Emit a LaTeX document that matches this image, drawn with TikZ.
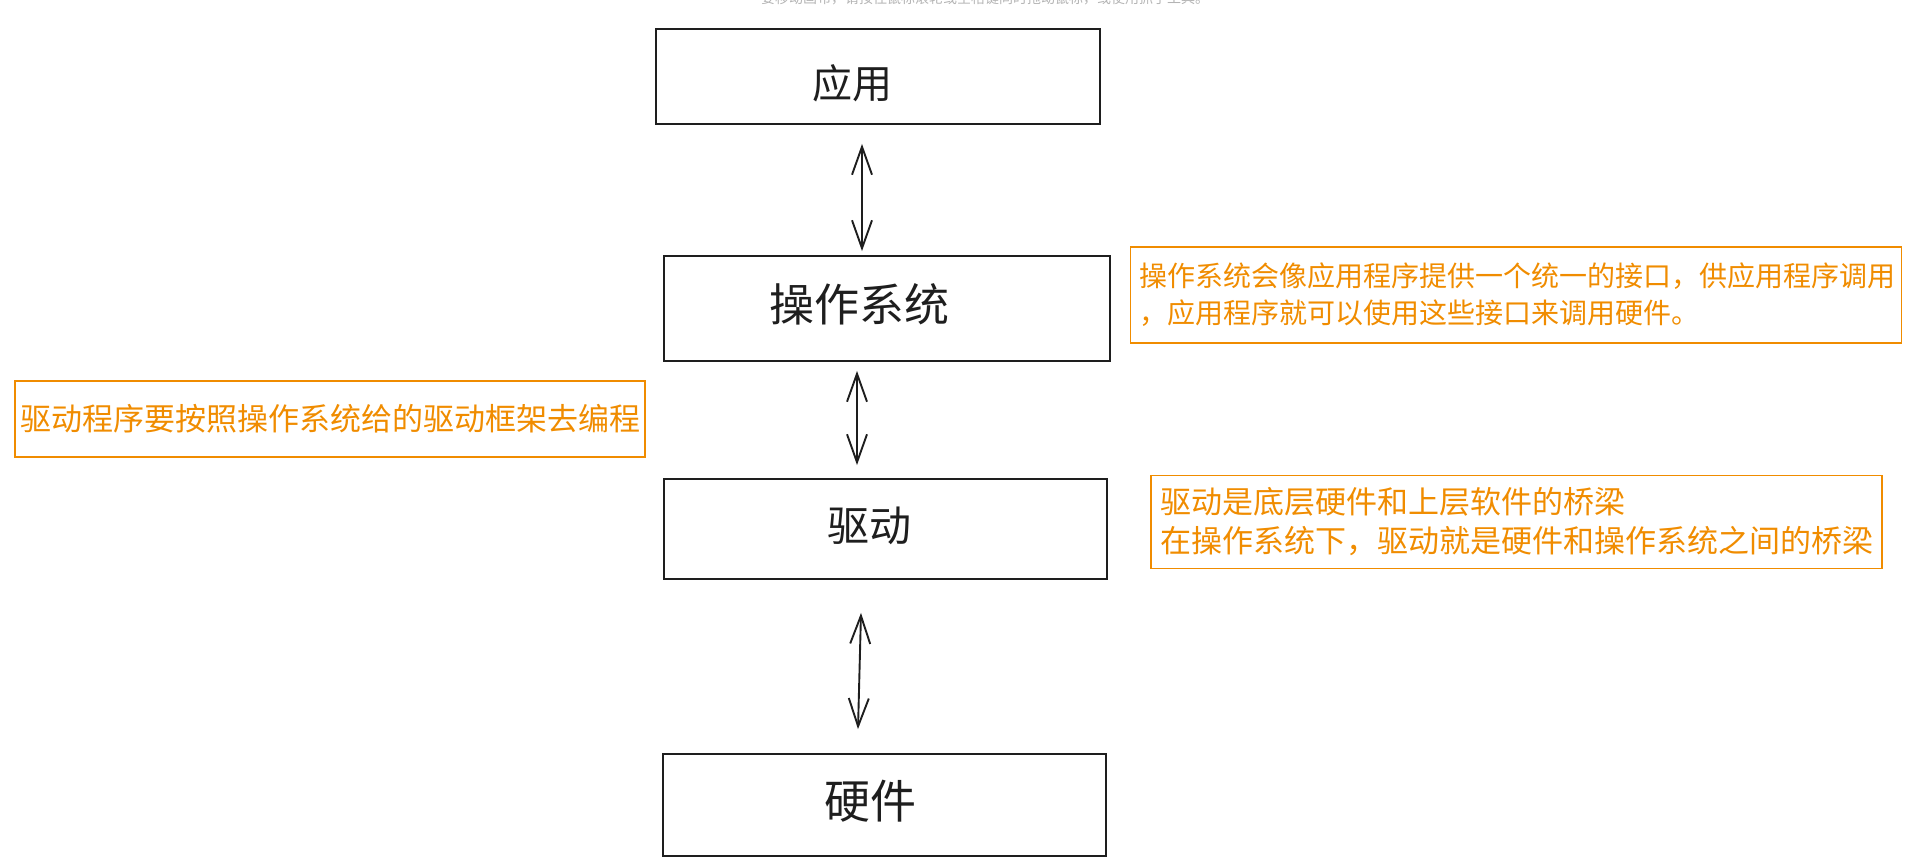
\documentclass[tikz,border=0pt]{standalone}
\usepackage{fontspec}
\setmainfont{Noto Sans CJK SC}
\usetikzlibrary{arrows.meta,positioning}
\definecolor{ink}{HTML}{1E1E1E}
\definecolor{remark}{HTML}{F08C00}
\definecolor{hint}{HTML}{B4B4B4}

\begin{document}
\begin{tikzpicture}[x=1pt, y=-1pt,
  box/.style={draw=ink, line width=1.8pt, inner sep=0pt},
  lbl/.style={text=ink, inner sep=0pt},
  note/.style={draw=remark, text=remark, line width=1.8pt, inner xsep=9pt,
               inner ysep=0pt, align=left},
  arr/.style={{Straight Barb[length=28pt,width=20pt]}-{Straight Barb[length=28pt,width=20pt]},
              line width=1.9pt, ink}
]
  \useasboundingbox (0,0) rectangle (1908,867);

  % half-hidden canvas hint at the top edge
  \node[text=hint, anchor=base, inner sep=0pt, font=\fontsize{14}{16}\selectfont] (hintTxt) at (985,4)
    {要移动画布，请按住鼠标滚轮或空格键同时拖动鼠标，或使用抓手工具。};

  % layers
  \node[box, minimum width=444pt, minimum height=95pt] (app) at (878,76.5) {};
  \node[box, minimum width=446pt, minimum height=105pt] (os) at (887,308.5) {};
  \node[box, minimum width=443pt, minimum height=100pt] (drv) at (885.5,529) {};
  \node[box, minimum width=443pt, minimum height=102pt] (hw) at (884.5,805) {};

  \node[lbl, font=\fontsize{40}{48}\selectfont] (appTxt) at (852,83) {应用};
  \node[lbl, font=\fontsize{45}{54}\selectfont] (osTxt) at (859,304) {操作系统};
  \node[lbl, font=\fontsize{42}{50}\selectfont] (drvTxt) at (869,526) {驱动};
  \node[lbl, font=\fontsize{46}{54}\selectfont] (hwTxt) at (870,801) {硬件};

  % notes
  \node[note, minimum width=771pt, minimum height=96pt, text width=753pt,
        font=\fontsize{28}{37}\selectfont] (osNote) at (1516,295)
    {操作系统会像应用程序提供一个统一的接口，供应用程序调用\\，应用程序就可以使用这些接口来调用硬件。};
  \node[note, minimum width=630pt, minimum height=76pt, inner xsep=5pt, text width=620pt,
        font=\fontsize{31}{38}\selectfont] (fwNote) at (330,419)
    {驱动程序要按照操作系统给的驱动框架去编程};
  \node[note, minimum width=731pt, minimum height=93pt, text width=713pt,
        font=\fontsize{31}{39}\selectfont] (drvNote) at (1516.5,522)
    {驱动是底层硬件和上层软件的桥梁\\在操作系统下，驱动就是硬件和操作系统之间的桥梁};

  % links
  \draw[arr] ([xshift=-16pt,yshift=-19pt]app.south) -- ([xshift=-25pt,yshift=4pt]os.north);
  \draw[arr] ([xshift=-30pt,yshift=-9pt]os.south) -- ([xshift=-28.5pt,yshift=13pt]drv.north);
  \draw[arr] ([xshift=-24.5pt,yshift=-33pt]drv.south) -- ([xshift=-26.5pt,yshift=24pt]hw.north);
\end{tikzpicture}
\end{document}
